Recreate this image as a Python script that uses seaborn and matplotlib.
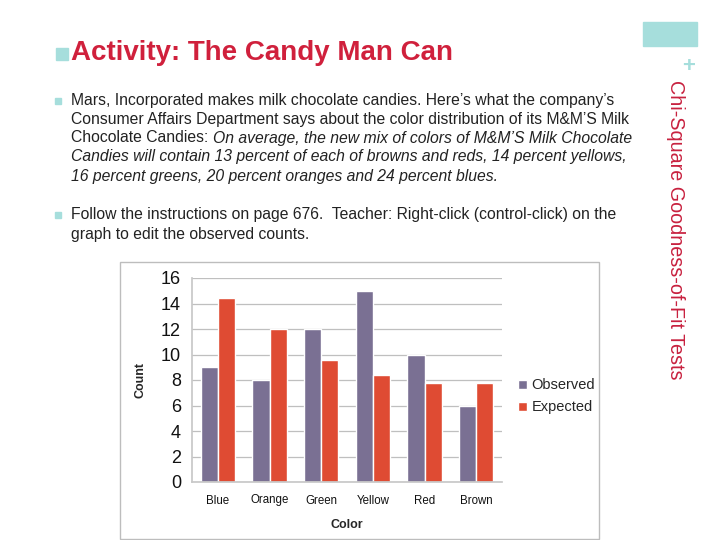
import matplotlib
matplotlib.use("Agg")
import matplotlib.pyplot as plt
import matplotlib.patches as mpatches
import seaborn as sns
import pandas as pd

# data
colors = ["Blue", "Orange", "Green", "Yellow", "Red", "Brown"]
observed = [9, 8, 12, 15, 10, 6]
expected = [14.4, 12, 9.6, 8.4, 7.8, 7.8]
series_names = ["Observed", "Expected"]
y_ticks = [0, 2, 4, 6, 8, 10, 12, 14, 16]

title_text = "Activity: The Candy Man Can"
side_text = "Chi-Square Goodness-of-Fit Tests"
bullet1_lines = [
    ("Mars, Incorporated makes milk chocolate candies. Here\u2019s what the company\u2019s", "normal"),
    ("Consumer Affairs Department says about the color distribution of its M&M\u2019S Milk", "normal"),
    (None, None),
    ("Candies will contain 13 percent of each of browns and reds, 14 percent yellows,", "italic"),
    ("16 percent greens, 20 percent oranges and 24 percent blues.", "italic"),
]
bullet2_lines = [
    "Follow the instructions on page 676.  Teacher: Right-click (control-click) on the",
    "graph to edit the observed counts.",
]

df = pd.DataFrame({
    "Color": colors * 2,
    "Count": observed + expected,
    "Series": [series_names[0]] * len(colors) + [series_names[1]] * len(colors),
})

sns.set_theme(style="white")
plt.rcParams["font.family"] = ["Liberation Sans", "DejaVu Sans"]

W, H = 720, 540
fig = plt.figure(figsize=(7.2, 5.4), dpi=100)
fig.patch.set_facecolor("white")

teal = "#A6DEDC"
red = "#D0203C"
body = 11.3

def fx(x):
    return x / W

def fy(y):
    return 1 - y / H

# title with square bullet
fig.patches.append(mpatches.Rectangle((fx(56), fy(60)), fx(12), 12 / H, color=teal,
                                      transform=fig.transFigure, figure=fig))
fig.text(fx(71), fy(53), title_text, color=red, fontsize=20, fontweight="bold",
         va="center", ha="left")

# right decoration
fig.patches.append(mpatches.Rectangle((fx(643), fy(46)), fx(54), 24 / H, color=teal,
                                      transform=fig.transFigure, figure=fig))
fig.text(fx(689), fy(66), "+", color=teal, fontsize=16, fontweight="bold",
         ha="center", va="center")
fig.text(fx(675), fy(230), side_text, color="#C8213F", fontsize=14.2, rotation=-90,
         ha="center", va="center")

# bullet text
def small_bullet(y):
    fig.patches.append(mpatches.Rectangle((fx(55), fy(y + 3)), fx(6), 6 / H, color=teal,
                                          transform=fig.transFigure, figure=fig))

small_bullet(101)
line_y = [101, 119.5, 138, 157, 176]
for (txt, style), y in zip(bullet1_lines, line_y):
    if txt is None:
        continue
    fig.text(fx(71), fy(y), txt, fontsize=body, style=style, va="center", ha="left",
             color="#222222")
# mixed line
t = fig.text(fx(71), fy(138), "Chocolate Candies: ", fontsize=body, va="center", ha="left",
             color="#222222")
fig.canvas.draw()
bb = t.get_window_extent()
fig.text(bb.x1 / W, fy(138), "On average, the new mix of colors of M&M\u2019S Milk Chocolate",
         fontsize=body, style="italic", va="center", ha="left", color="#222222")

small_bullet(215)
for txt, y in zip(bullet2_lines, [215, 234]):
    fig.text(fx(71), fy(y), txt, fontsize=body, va="center", ha="left", color="#222222")

# chart frame
fig.patches.append(mpatches.Rectangle((fx(120), fy(539)), fx(479), 277 / H, fill=False,
                                      edgecolor="#BDBDBD", linewidth=1,
                                      transform=fig.transFigure, figure=fig))

ax = fig.add_axes([fx(192), fy(482), fx(310), 204 / H])
sns.barplot(data=df, x="Color", y="Count", hue="Series",
            palette=["#7A7093", "#DF4B33"], width=0.66, saturation=1, ax=ax)

ax.set_ylim(0, 16)
ax.set_yticks(y_ticks)
ax.set_xlim(-0.5, len(colors) - 0.5)
ax.yaxis.grid(True, color="#BFBFBF", linewidth=0.9)
ax.set_axisbelow(True)
for side in ["top", "right"]:
    ax.spines[side].set_visible(False)
ax.spines["left"].set_color("#C8C8C8")
ax.spines["bottom"].set_color("#C8C8C8")
ax.tick_params(axis="y", labelsize=13, length=0, pad=8, labelcolor="#111111")
ax.tick_params(axis="x", labelsize=8.3, length=0, pad=9, labelcolor="#111111")
ax.set_xticks(range(len(colors)), minor=False)
ax.set_xticks([i - 0.5 for i in range(len(colors) + 1)], minor=True)
ax.tick_params(axis="x", which="minor", length=3, color="#C8C8C8", direction="out")
ax.set_xlabel("Color", fontsize=9, fontweight="bold", labelpad=9)
ax.set_ylabel("Count", fontsize=9, fontweight="bold", labelpad=10)

leg = ax.legend(loc="center left", bbox_to_anchor=(1.01, 0.42), frameon=False,
                fontsize=10.5, handlelength=0.6, handleheight=0.6, handletextpad=0.3,
                labelspacing=0.55)

fig.savefig("out.png", dpi=100, facecolor="white")
